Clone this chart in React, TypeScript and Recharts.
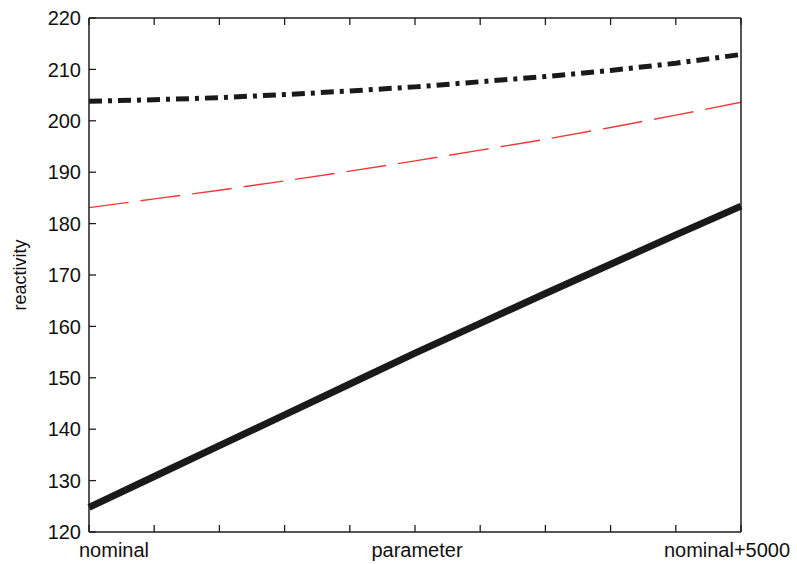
import React from 'react';
import { LineChart, Line, XAxis, YAxis, Label } from 'recharts';

// parameter sweep from nominal to nominal+5000, 11 steps
const steps = [0, 1, 2, 3, 4, 5, 6, 7, 8, 9, 10];
const stepLabels = ['nominal', '', '', '', '', 'parameter', '', '', '', '', 'nominal+5000'];
const yTicks = [120, 130, 140, 150, 160, 170, 180, 190, 200, 210, 220];

const solidSeries = [124.8, 130.8, 136.8, 142.8, 148.8, 154.8, 160.6, 166.4, 172.1, 177.8, 183.4];
const dashedSeries = [183.1, 184.8, 186.5, 188.3, 190.2, 192.2, 194.3, 196.4, 198.7, 201.1, 203.6];
const dashDotSeries = [203.8, 204.1, 204.5, 205.1, 205.8, 206.6, 207.6, 208.6, 209.8, 211.2, 212.9];

const data = steps.map((s, i) => ({
  x: s,
  solid: solidSeries[i],
  dashed: dashedSeries[i],
  dashDot: dashDotSeries[i],
}));

const axisColor = '#1e1e1e';
const font = '"Liberation Sans", Arial, Helvetica, sans-serif';
const tickLen = 7;

const BottomTick = (props: any) => {
  const { x, y, payload } = props;
  const label = stepLabels[payload.index] ?? '';
  const shift = payload.value === 0 ? 25 : payload.value === 10 ? -14 : 2;
  return (
    <g>
      <line x1={x} y1={y} x2={x} y2={y - tickLen} stroke={axisColor} strokeWidth={1.3} />
      {label && (
        <text x={x + shift} y={y + 25} textAnchor="middle" fontSize={20} fontFamily={font} fill="#111">
          {label}
        </text>
      )}
    </g>
  );
};

const TopTick = (props: any) => {
  const { x, y } = props;
  return <line x1={x} y1={y} x2={x} y2={y + tickLen} stroke={axisColor} strokeWidth={1.3} />;
};

const LeftTick = (props: any) => {
  const { x, y, payload } = props;
  return (
    <g>
      <line x1={x} y1={y} x2={x + tickLen} y2={y} stroke={axisColor} strokeWidth={1.3} />
      <text x={x - 8} y={y} dy="0.36em" textAnchor="end" fontSize={20} fontFamily={font} fill="#111">
        {payload.value}
      </text>
    </g>
  );
};

const RightTick = (props: any) => {
  const { x, y } = props;
  return <line x1={x} y1={y} x2={x - tickLen} y2={y} stroke={axisColor} strokeWidth={1.3} />;
};

const YTitle = (props: any) => {
  const vb = props.viewBox || {};
  const cx = 20;
  const cy = (vb.y ?? 0) + (vb.height ?? 0) / 2;
  return (
    <text
      x={cx}
      y={cy}
      transform={`rotate(-90 ${cx} ${cy})`}
      textAnchor="middle"
      dominantBaseline="central"
      fontSize={18}
      fontFamily={font}
      fill="#111"
    >
      reactivity
    </text>
  );
};

export default function App() {
  return (
    <div style={{ position: 'absolute', left: 0, top: 0, background: '#fff' }}>
      <LineChart width={797} height={564} data={data} margin={{ top: 0, right: 0, bottom: 2, left: 0 }}>
        <XAxis
          xAxisId="bottom"
          dataKey="x"
          type="number"
          domain={[0, 10]}
          ticks={steps}
          interval={0}
          height={30}
          tickSize={0}
          tickMargin={0}
          tickLine={false}
          tick={<BottomTick />}
          axisLine={{ stroke: axisColor, strokeWidth: 1.5 }}
        />
        <XAxis
          xAxisId="top"
          orientation="top"
          dataKey="x"
          type="number"
          domain={[0, 10]}
          ticks={steps}
          interval={0}
          height={18}
          tickSize={0}
          tickMargin={0}
          tickLine={false}
          tick={<TopTick />}
          axisLine={{ stroke: axisColor, strokeWidth: 1.5 }}
        />
        <YAxis
          yAxisId="left"
          type="number"
          domain={[120, 220]}
          ticks={yTicks}
          interval={0}
          width={89}
          tickSize={0}
          tickMargin={0}
          tickLine={false}
          tick={<LeftTick />}
          axisLine={{ stroke: axisColor, strokeWidth: 1.5 }}
        >
          <Label content={<YTitle />} />
        </YAxis>
        <YAxis
          yAxisId="right"
          orientation="right"
          type="number"
          domain={[120, 220]}
          ticks={yTicks}
          interval={0}
          width={56}
          tickSize={0}
          tickMargin={0}
          tickLine={false}
          tick={<RightTick />}
          axisLine={{ stroke: axisColor, strokeWidth: 1.5 }}
        />
        <Line
          xAxisId="bottom"
          yAxisId="left"
          type="linear"
          dataKey="solid"
          stroke="#1a1a1a"
          strokeWidth={7}
          dot={false}
          isAnimationActive={false}
        />
        <Line
          xAxisId="bottom"
          yAxisId="left"
          type="linear"
          dataKey="dashed"
          stroke="#f0393a"
          strokeWidth={1.4}
          strokeDasharray="40 12"
          dot={false}
          isAnimationActive={false}
        />
        <Line
          xAxisId="bottom"
          yAxisId="left"
          type="linear"
          dataKey="dashDot"
          stroke="#1a1a1a"
          strokeWidth={5}
          strokeDasharray="13 6 4 6"
          dot={false}
          isAnimationActive={false}
        />
      </LineChart>
    </div>
  );
}
